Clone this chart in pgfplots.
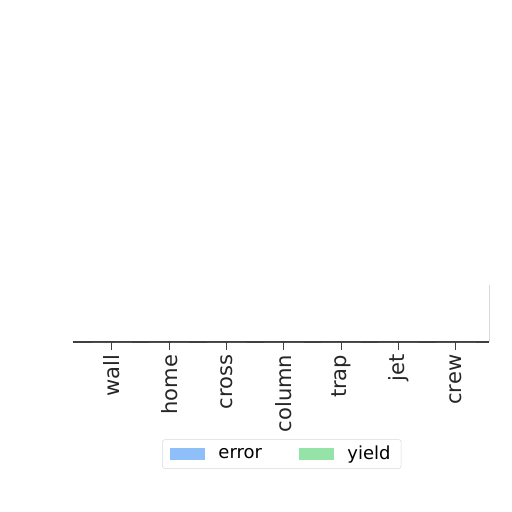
\documentclass[border=0pt]{standalone}
\usepackage{pgfplots}
\pgfplotsset{compat=1.18}
\usepackage{fontspec}
\setmainfont{DejaVu Sans}
\definecolor{errc}{HTML}{8FBFF8}
\definecolor{yldc}{HTML}{95E3A6}
\begin{document}
\begin{tikzpicture}[x=1pt,y=1pt]
\path[use as bounding box,fill=white] (0,0) rectangle (384,384);
\begin{axis}[
  at={(54.75pt,127.5pt)}, anchor=south west,
  scale only axis, width=312pt, height=241.5pt,
  ybar, bar width=14pt,
  xmin=-0.68, xmax=6.58, ymin=0, ymax=1,
  axis x line*=bottom, axis y line=none,
  x axis line style={-, line width=0.8pt, black!75},
  xtick={0,...,6},
  xticklabels={wall,home,cross,column,trap,jet,crew},
  x tick label style={rotate=90, anchor=east, font=\fontsize{15.8}{17}\selectfont, text=black!85},
  major tick length=6pt,
  tick style={line width=0.8pt, black!75},
  tick align=outside,
  legend columns=2,
  legend style={at={(axis description cs:0.502,-0.348)}, anchor=center,
    draw=black!15, rounded corners=2pt, font=\fontsize{13.5}{15}\selectfont,
    inner xsep=6pt, inner ysep=3pt,
    /tikz/every odd column/.append style={column sep=8pt},
    /tikz/every even column/.append style={column sep=26pt}},
  legend image code/.code={\fill[#1, sharp corners] (0pt,-4.5pt) rectangle (26pt,4.5pt);},
]
\addplot[fill=errc, draw=none] coordinates {(0,0) (1,0) (2,0) (3,0) (4,0) (5,0) (6,0)};
\addlegendentry{error}
\addplot[fill=yldc, draw=none] coordinates {(0,0) (1,0) (2,0) (3,0) (4,0) (5,0) (6,0)};
\addlegendentry{yield}
\end{axis}
\draw[black!15, line width=0.6pt] (366.75,127.5) -- (366.75,170);
\end{tikzpicture}
\end{document}
